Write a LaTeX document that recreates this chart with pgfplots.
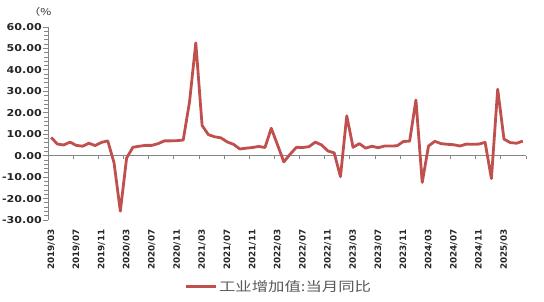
\documentclass[border=0pt]{standalone}
\usepackage{pgfplots}
\pgfplotsset{compat=1.18}
\usepackage{fontspec}
\setmainfont{DejaVu Sans}
\newfontfamily\ticky[FakeStretch=1.17]{DejaVu Sans}
\newfontfamily\xticky{DejaVu Sans}
\newfontfamily\cjk[FakeStretch=1.26]{Noto Sans CJK SC}
\definecolor{lred}{HTML}{C0504D}
\definecolor{axgray}{HTML}{868686}
\definecolor{txtgray}{HTML}{595959}
\begin{document}
\begin{tikzpicture}
\useasboundingbox (0,0) rectangle (544pt,302pt);
\begin{axis}[
  at={(48pt,82pt)}, anchor=south west,
  scale only axis, width=478pt, height=193pt,
  xmin=-0.5, xmax=75.5, ymin=-30, ymax=60,
  clip=false,
  axis x line=middle, axis y line=left,
  axis line style={-, draw=axgray, line width=0.9pt},
  tick align=outside,
  major tick length=4.5pt, minor tick length=3.5pt,
  tick style={axgray, line width=0.8pt},
  major x tick style={draw=none},
  ytick={-30,-20,...,60}, minor y tick num=4,
  xtick={0,4,...,72},
  minor xtick={-0.5,3.5,...,75.5},
  xticklabels={2019/03,2019/07,2019/11,2020/03,2020/07,2020/11,2021/03,2021/07,2021/11,2022/03,2022/07,2022/11,2023/03,2023/07,2023/11,2024/03,2024/07,2024/11,2025/03},
  xticklabel style={rotate=90, anchor=east, font=\xticky\bfseries\fontsize{8.8}{9}\selectfont, text=black!85},
  xticklabel shift=66pt,
  yticklabel style={font=\ticky\bfseries\fontsize{9.5}{10}\selectfont, text=black!85, inner xsep=1.5pt},
  /pgf/number format/.cd, fixed, fixed zerofill, precision=2, assume math mode=true,
  /pgfplots/.cd,
  legend style={at={(0.278,-0.347)}, anchor=west, draw=none, fill=none,
    font=\cjk\fontsize{13}{14}\selectfont, text=txtgray},
  legend image code/.code={\draw[#1, line width=3pt] (0pt,0pt) -- (30pt,0pt);},
]
\addplot[lred, line width=2.8pt, line join=round, mark=none] coordinates {
(0,8.5)(1,5.4)(2,5.0)(3,6.3)(4,4.8)(5,4.4)(6,5.8)(7,4.7)(8,6.2)(9,6.9)
(10,-3.3)(11,-25.9)(12,-1.1)(13,3.9)(14,4.4)(15,4.8)(16,4.8)(17,5.6)(18,6.9)(19,6.9)(20,7.0)(21,7.3)
(22,25.0)(23,52.6)(24,14.1)(25,9.8)(26,8.8)(27,8.3)(28,6.4)(29,5.3)(30,3.1)(31,3.5)(32,3.8)(33,4.3)
(34,3.8)(35,12.8)(36,5.0)(37,-2.9)(38,0.7)(39,3.9)(40,3.8)(41,4.2)(42,6.3)(43,5.0)(44,2.2)(45,1.3)
(46,-9.8)(47,18.6)(48,3.9)(49,5.6)(50,3.5)(51,4.4)(52,3.7)(53,4.5)(54,4.5)(55,4.6)(56,6.6)(57,6.8)
(58,26.0)(59,-12.5)(60,4.5)(61,6.7)(62,5.6)(63,5.3)(64,5.1)(65,4.5)(66,5.4)(67,5.3)(68,5.4)(69,6.2)
(70,-10.7)(71,31.0)(72,7.7)(73,6.1)(74,5.8)(75,6.8)
};
\addlegendentry{工业增加值:当月同比}
\node[font=\cjk\fontsize{9.5}{10}\selectfont, text=black!80] at (rel axis cs:-0.017,1.078) {（\%};
\end{axis}
\end{tikzpicture}
\end{document}
